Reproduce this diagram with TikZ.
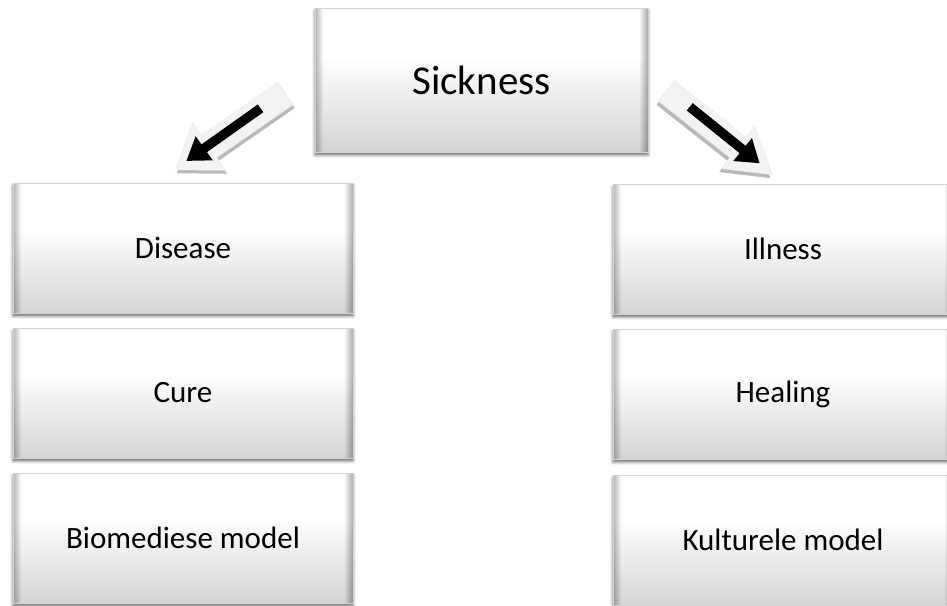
\documentclass[tikz,border=0pt]{standalone}
\usepackage{fontspec}
\setmainfont{Carlito}
\usetikzlibrary{arrows.meta,shadows.blur}
\definecolor{boxlow}{RGB}{212,212,212}
\definecolor{shellc}{RGB}{243,243,243}
\definecolor{shelldark}{RGB}{185,185,185}
\pgfdeclareverticalshading{boxshade}{100bp}{color(0bp)=(boxlow); color(25bp)=(boxlow); color(58bp)=(white); color(100bp)=(white)}
\tikzset{
  box/.style={shade, shading=boxshade, draw=gray!35, line width=0.6pt,
    minimum width=340pt, minimum height=130pt, inner sep=0pt,
    font=\fontsize{31}{37}\selectfont,
    path picture={
      \foreach \i in {0,...,7}{
        \pgfmathsetmacro\op{0.30*(1-\i/8)}
        \fill[black, opacity=\op] ([xshift=\i pt]path picture bounding box.south west) rectangle ([xshift=\i pt+1pt]path picture bounding box.north west);
        \fill[black, opacity=\op] ([xshift=-\i pt-1pt]path picture bounding box.south east) rectangle ([xshift=-\i pt]path picture bounding box.north east);
      }
    },
    blur shadow={shadow xshift=0pt, shadow yshift=-3pt, shadow blur radius=3pt, shadow opacity=60}},
  bigbox/.style={box, minimum width=333pt, minimum height=144pt, font=\fontsize{41}{49}\selectfont},
  shell/.style={fill=shellc, draw=gray!15, line width=0.5pt},
  shellside/.style={fill=shelldark},
  pointer/.style={black, line width=9.5pt, -{Triangle[length=22pt,width=28pt]}}
}
\begin{document}
\begin{tikzpicture}[x=1pt,y=1pt]
\useasboundingbox (0,0) rectangle (947,605);
\clip (0,0) rectangle (947,605);

% boxes
\node[bigbox] (sick) at (481.5,525) {Sickness};
\node[box] (dis) at (183,357) {Disease};
\node[box] (cure) at (183,212) {Cure};
\node[box] (bio) at (183,67) {Biomediese model};
\node[box] (ill) at (783,356) {Illness};
\node[box] (heal) at (783,211) {Healing};
\node[box] (kult) at (783,65) {Kulturele model};

% left block arrow
\begin{scope}[shift={(1.5,-3.5)}]
\begin{scope}[shift={(285.5,511.5)}, rotate=214.7]
  \fill[shellside] (0,-13.5) -- (93,-13.5) -- (93,-29) -- (134,0) -- (93,29) -- (93,13.5) -- (0,13.5) -- cycle;
\end{scope}
\end{scope}
\begin{scope}[shift={(285.5,511.5)}, rotate=214.7]
  \path[shell] (0,-13.5) -- (93,-13.5) -- (93,-29) -- (134,0) -- (93,29) -- (93,13.5) -- (0,13.5) -- cycle;
  \coordinate (l1) at (29,-2);
  \coordinate (l2) at (120,-1);
\end{scope}
\draw[pointer] (l1) -- (l2);

% right block arrow
\begin{scope}[shift={(-2,-3.5)}]
\begin{scope}[shift={(666.5,514)}, rotate=-38.3]
  \fill[shellside] (0,-13) -- (91,-13) -- (91,-27) -- (135,0) -- (91,27) -- (91,13) -- (0,13) -- cycle;
\end{scope}
\end{scope}
\begin{scope}[shift={(666.5,514)}, rotate=-38.3]
  \path[shell] (0,-13) -- (91,-13) -- (91,-27) -- (135,0) -- (91,27) -- (91,13) -- (0,13) -- cycle;
  \coordinate (r1) at (28,2);
  \coordinate (r2) at (118,1);
\end{scope}
\draw[pointer] (r1) -- (r2);
\end{tikzpicture}
\end{document}
